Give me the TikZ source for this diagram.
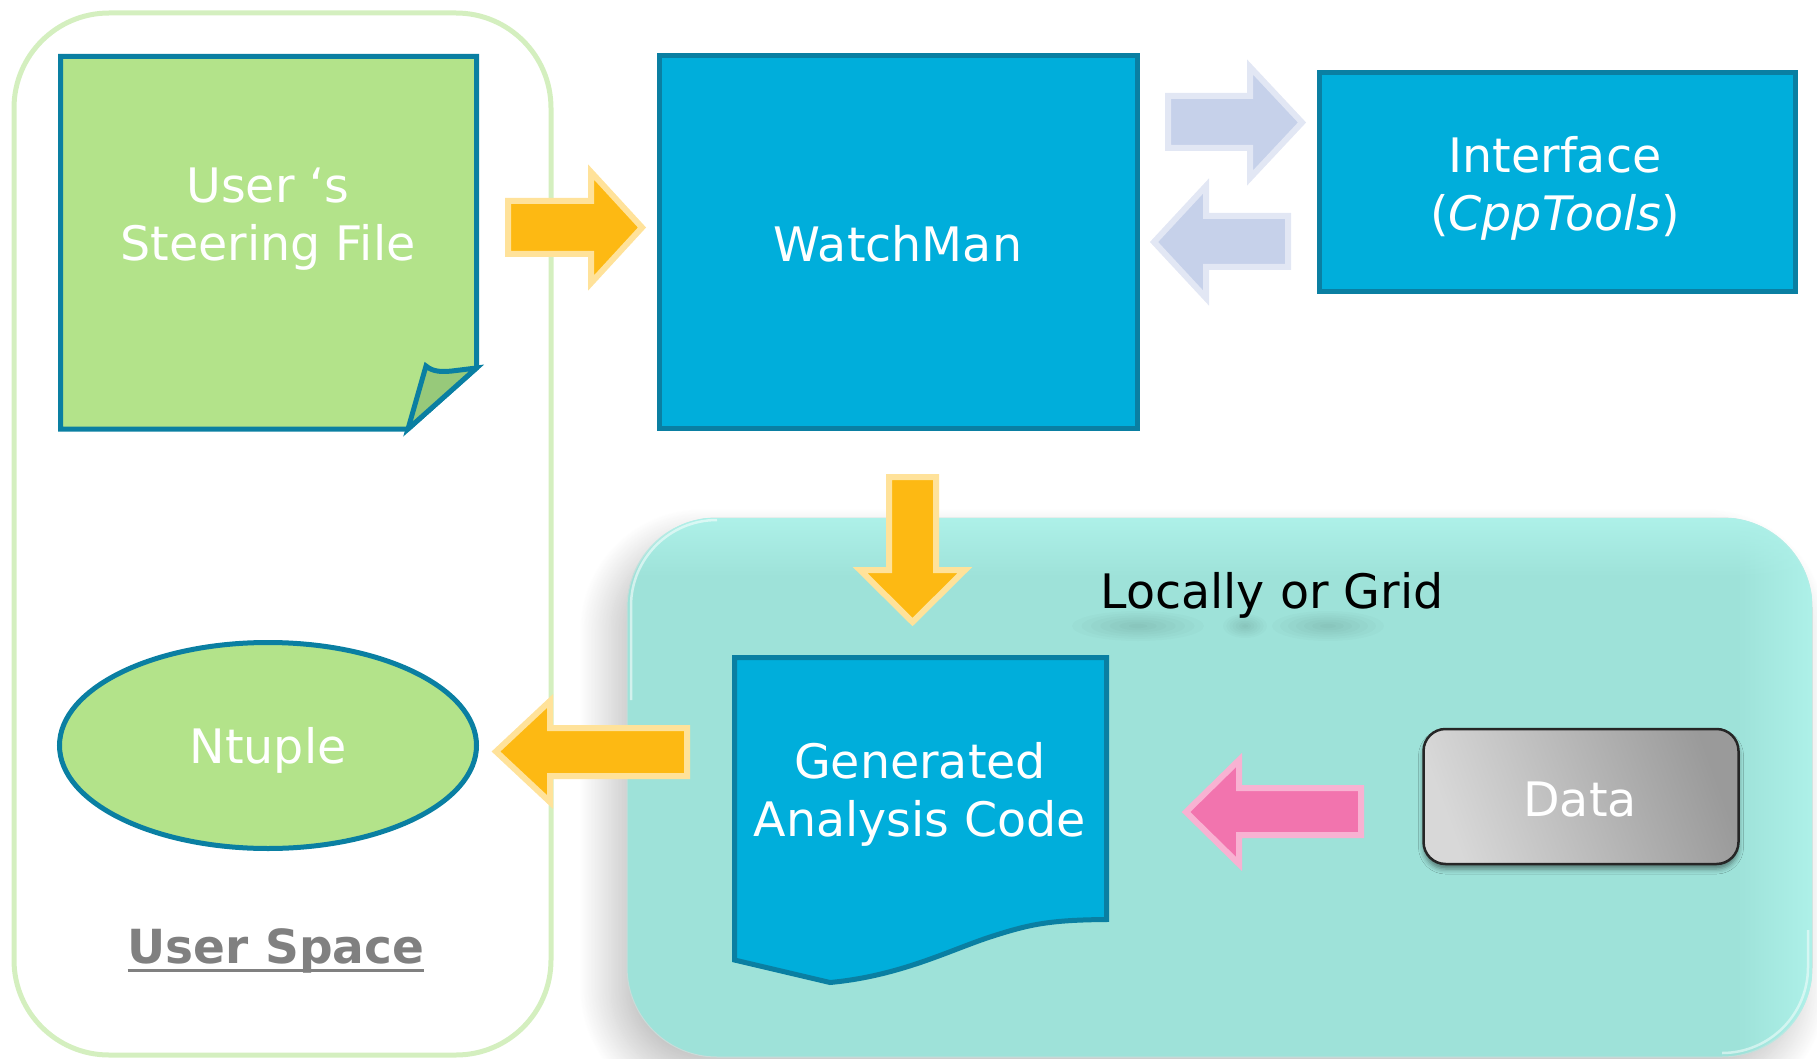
\documentclass[tikz,border=0pt]{standalone}
\usepackage{fontspec}
\setmainfont{DejaVu Sans}
\usetikzlibrary{shadows.blur,shapes.geometric,fadings}

\definecolor{leaf}{HTML}{B3E38A}
\definecolor{leafdark}{HTML}{97C97A}
\definecolor{rim}{HTML}{0A7FA2}
\definecolor{sky}{HTML}{00AEDB}
\definecolor{userrim}{HTML}{D4EFBF}
\definecolor{lagoon}{HTML}{9EE2D9}
\definecolor{lagoonlight}{HTML}{AEF1E9}
\definecolor{lagoonedge}{HTML}{C9DCD9}
\definecolor{amber}{HTML}{FDB913}
\definecolor{amberrim}{HTML}{FFE29A}
\definecolor{mist}{HTML}{C6D1EA}
\definecolor{mistrim}{HTML}{E2E7F4}
\definecolor{rose}{HTML}{F274AE}
\definecolor{roserim}{HTML}{F8B2D2}
\definecolor{ugray}{HTML}{808080}
\definecolor{datalight}{HTML}{D8D8D8}
\definecolor{datadark}{HTML}{9A9A9A}

% soft blurred spot built from stacked translucent ellipses
\newcommand\softspot[4]{%
  \foreach \k in {1,...,7}{%
    \pgfmathsetmacro\rx{#3*\k/7}\pgfmathsetmacro\ry{#4*\k/7}%
    \fill[black, opacity=0.015] (#1,#2) ellipse [x radius=\rx, y radius=\ry];}}

\begin{document}
\begin{tikzpicture}[x=1pt,y=-1pt,
  every node/.style={font=\fontsize{47.5}{58}\selectfont},
  box/.style={draw=rim, line width=5pt, fill=sky, inner sep=0pt},
  note/.style={draw=rim, line width=5pt, fill=leaf, line join=miter},
  label/.style={text=white, align=center, inner sep=0pt},
  amberarrow/.style={fill=amber, draw=amberrim, line width=6pt, line join=miter},
  mistarrow/.style={fill=mist, draw=mistrim, line width=6pt, line join=miter},
  rosearrow/.style={fill=rose, draw=roserim, line width=6pt, line join=miter},
]
\useasboundingbox (0,0) rectangle (1817,1059);

% user space frame
\node[draw=userrim, line width=5pt, rounded corners=95pt, minimum width=537pt,
      minimum height=1042pt, inner sep=0pt] (userspace) at (282.5,534) {};

% steering file: sheet with a folded corner
\draw[note] (60.5,56.5) -- (476.5,56.5) -- (476.5,368) -- (408,429) -- (60.5,429) -- cycle;
\draw[note, fill=leafdark] (426,366) .. controls (433,372) and (442,372) .. (452,371)
      -- (476.5,368) -- (408,429) -- cycle;
\node[label] (steer) at (268,219.5) {User ‘s\\Steering File};

% WatchMan and the interface
\node[box, minimum width=478pt, minimum height=372pt] (watchman) at (898,242) {};
\node[label] (watchmanlabel) at (898,244) {WatchMan};
\node[box, minimum width=476pt, minimum height=219pt] (iface) at (1557.5,182) {};
\node[label] (ifacelabel) at (1555,188) {Interface\\(\textit{CppTools})};

% block arrows of the upper row
\draw[amberarrow] (508,201) -- (591,201) -- (591,172) -- (642,227.5) -- (591,283)
      -- (591,254) -- (508,254) -- cycle;
\draw[mistarrow] (1168,96) -- (1250,96) -- (1250,67) -- (1302,122.5) -- (1250,178)
      -- (1250,148) -- (1168,148) -- cycle;
\draw[mistarrow] (1288,216) -- (1206,216) -- (1206,186) -- (1154,242) -- (1206,298)
      -- (1206,267) -- (1288,267) -- cycle;

% execution area
\node[draw=lagoonedge, line width=1pt, fill=lagoon, rounded corners=90pt,
      minimum width=1185pt, minimum height=539pt, inner sep=0pt,
      blur shadow={shadow xshift=-16pt, shadow yshift=-22pt,
                   shadow blur radius=32pt, shadow opacity=24,
                   shadow blur steps=40}] (grid) at (1219.5,787.5) {};
\begin{scope}
  \clip[rounded corners=90pt] (grid.north west) rectangle (grid.south east);
  \fill[lagoonlight, path fading=west] (1735,518) rectangle (1812,1057);
  \fill[lagoonlight, path fading=south] (627,518) rectangle (1812,578);
\end{scope}
\draw[white, opacity=.55, line width=2.5pt] (631,700) -- (631,606) arc[start angle=180, end angle=270, radius=86];
\draw[white, opacity=.5, line width=2.5pt] (1808,930) -- (1808,967) arc[start angle=0, end angle=90, radius=86];

\softspot{1138}{626}{66}{15}
\softspot{1245}{626}{22}{12}
\softspot{1328}{626}{56}{15}
\node[anchor=base, inner sep=0pt] (gridlabel) at (1272,608) {Locally or Grid};

% generated analysis code: document shape
\draw[draw=rim, line width=5pt, fill=sky, line join=miter]
  (734.5,657.5) -- (1106.5,657.5) -- (1106.5,919.5)
  .. controls (1050,920) and (1030,924) .. (990,937)
  .. controls (950,950) and (900,976) .. (830,982.5)
  -- (734.5,960) -- cycle;
\node[label] (gac) at (920,794.5) {Generated\\Analysis Code};

% data source
\node[draw=black!85, line width=2.5pt, rounded corners=22pt,
      left color=datalight, right color=datadark, shading angle=110,
      minimum width=315pt, minimum height=135pt, inner sep=0pt,
      blur shadow={shadow xshift=0pt, shadow yshift=-5pt,
                   shadow blur radius=5pt, shadow opacity=45}] (data) at (1581,796.5) {};
\node[label] (datalabel) at (1580,800) {Data};

% block arrows of the lower part
\draw[rosearrow] (1361,788) -- (1239,788) -- (1239,760) -- (1186,812) -- (1239,864)
      -- (1239,835) -- (1361,835) -- cycle;
\draw[amberarrow] (889,477) -- (889,570) -- (860,570) -- (912.5,622) -- (965,570)
      -- (936,570) -- (936,477) -- cycle;
\draw[amberarrow] (687,728) -- (550,728) -- (550,701) -- (496,751.5) -- (550,802)
      -- (550,776) -- (687,776) -- cycle;

% ntuple output
\node[draw=rim, line width=5pt, fill=leaf, ellipse, minimum width=417pt,
      minimum height=206pt, inner sep=0pt] (ntuple) at (268,745.5) {};
\node[label] (ntuplelabel) at (268,750) {Ntuple};

% caption of the user area
\node[anchor=base, inner sep=0pt, text=ugray, font=\bfseries\fontsize{47}{58}\selectfont]
      (us) at (276,963) {User Space};
\draw[ugray, line width=3pt] ([yshift=-7pt]us.base west) -- ([yshift=-7pt]us.base east);
\end{tikzpicture}
\end{document}
